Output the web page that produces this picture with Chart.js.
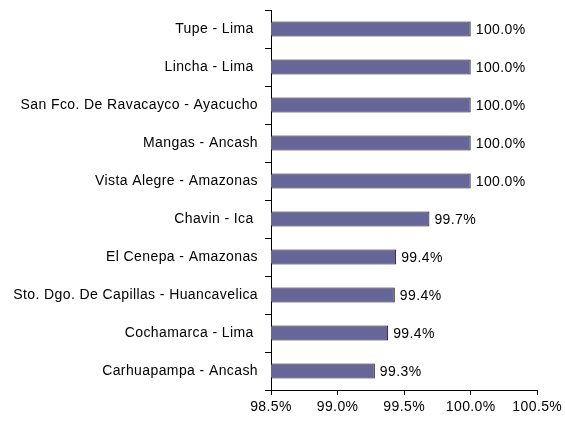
<!DOCTYPE html>
<html>
<head>
<meta charset="utf-8">
<script src="https://cdn.jsdelivr.net/npm/chart.js@4/dist/chart.umd.min.js"></script>
<style>
html,body{margin:0;padding:0;background:#fff;}
#wrap{width:565px;height:421px;position:relative;}
</style>
</head>
<body>
<div id="wrap"><canvas id="c" width="565" height="421"></canvas></div>
<script>
const categories = [
  "Tupe - Lima ",
  "Lincha - Lima ",
  "San Fco. De Ravacayco - Ayacucho",
  "Mangas - Ancash",
  "Vista Alegre - Amazonas",
  "Chavin - Ica ",
  "El Cenepa - Amazonas",
  "Sto. Dgo. De Capillas - Huancavelica",
  "Cochamarca - Lima ",
  "Carhuapampa - Ancash"
];
const values = [100.0, 100.0, 100.0, 100.0, 100.0, 99.69, 99.44, 99.43, 99.38, 99.28];
const displayLabels = ["100.0%","100.0%","100.0%","100.0%","100.0%","99.7%","99.4%","99.4%","99.4%","99.3%"];
const xTicks = [98.5, 99.0, 99.5, 100.0, 100.5];

const FONT = "'Liberation Sans', Arial, sans-serif";
const SPACING = '0.4px';

const spacingPlugin = {
  id: 'spacing',
  beforeInit(chart) { chart.ctx.letterSpacing = SPACING; },
  beforeDraw(chart) { chart.ctx.letterSpacing = SPACING; }
};

const valueLabels = {
  id: 'valueLabels',
  afterDatasetsDraw(chart) {
    const ctx = chart.ctx;
    const meta = chart.getDatasetMeta(0);
    ctx.save();
    ctx.letterSpacing = SPACING;
    ctx.font = "14px " + FONT;
    ctx.fillStyle = "#000";
    ctx.textAlign = "left";
    ctx.textBaseline = "middle";
    meta.data.forEach((bar, i) => {
      ctx.fillText(displayLabels[i], bar.x + 5, bar.y + 1);
    });
    ctx.restore();
  }
};

new Chart(document.getElementById('c'), {
  type: 'bar',
  data: {
    labels: categories,
    datasets: [{
      data: values,
      backgroundColor: '#666699',
      borderColor: '#111111',
      borderWidth: 1,
      borderSkipped: false,
      categoryPercentage: 1,
      barPercentage: 0.39
    }]
  },
  options: {
    indexAxis: 'y',
    responsive: false,
    animation: false,
    devicePixelRatio: 1,
    layout: { padding: { top: 10, right: 26, bottom: 0, left: 0 } },
    plugins: { legend: { display: false }, tooltip: { enabled: false } },
    scales: {
      x: {
        min: 98.5, max: 100.5,
        afterBuildTicks(scale) { scale.ticks = xTicks.map(v => ({ value: v })); },
        afterFit(scale) { scale.height = 31; },
        border: { display: true, color: '#000', width: 1 },
        grid: { display: true, drawOnChartArea: false, drawTicks: true, tickLength: 5, color: '#000' },
        ticks: {
          color: '#000', padding: 4, maxRotation: 0, autoSkip: false,
          font: { family: FONT, size: 14 },
          callback: v => Number(v).toFixed(1) + '%'
        }
      },
      y: {
        afterFit(scale) { scale.width = 271; scale.paddingTop = 0; scale.paddingBottom = 0; },
        border: { display: true, color: '#000', width: 1 },
        grid: { display: true, drawOnChartArea: false, drawTicks: true, tickLength: 6, color: '#000', offset: true },
        ticks: {
          color: '#000', padding: 7, autoSkip: false,
          font: { family: FONT, size: 14 }
        }
      }
    }
  },
  plugins: [spacingPlugin, valueLabels]
});
</script>
</body>
</html>
